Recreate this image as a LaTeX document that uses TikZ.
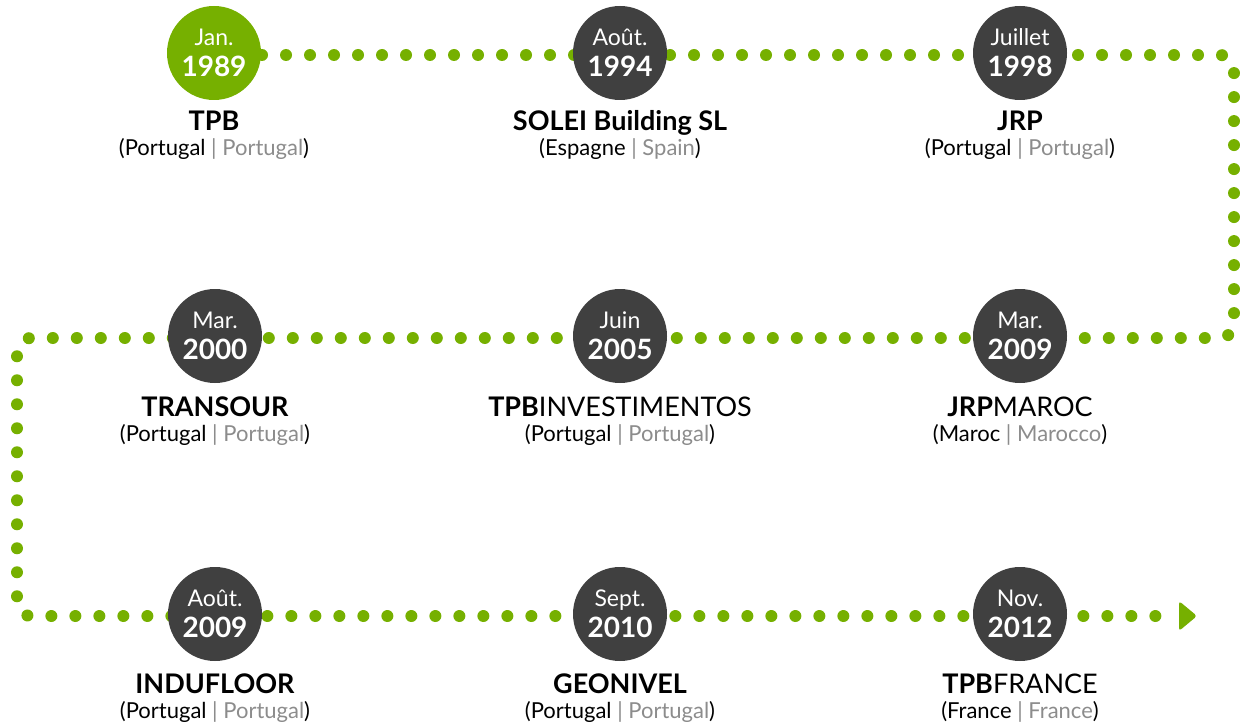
\documentclass[tikz,border=0pt]{standalone}
\usepackage{fontspec}
\setmainfont{Lato}
\usetikzlibrary{positioning}
\definecolor{tlgreen}{RGB}{118,176,0}
\definecolor{tldark}{RGB}{64,64,64}
\definecolor{tlgray}{RGB}{140,140,140}
\newcommand{\evdate}[2]{{\fontsize{11.5}{15}\selectfont #1}\\{\fontsize{14}{15}\selectfont\bfseries #2}}
\newcommand{\evname}[3]{{\fontsize{13.5}{12.5}\selectfont #1}\\{\fontsize{11}{12.5}\selectfont (#2 \textcolor{tlgray}{| #3})}}

\begin{document}
\begin{tikzpicture}[x=0.5pt, y=-0.5pt,
    datecirc/.style={circle, fill=tldark, minimum size=47pt, inner sep=0pt, text=white, align=center,
      font=\fontsize{12}{15.5}\selectfont},
    firstcirc/.style={datecirc, fill=tlgreen},
    evlabel/.style={align=center, anchor=north, inner sep=0pt, font=\fontsize{11}{12.5}\selectfont},
    dotline/.style={tlgreen, line width=6pt, line cap=round, dash pattern=on 0pt off 12pt, rounded corners=7pt}]
  \useasboundingbox (0,0) rectangle (1240,722);
  % path of the timeline
  \coordinate (start) at (214,55);
  \coordinate (tip) at (1197,616);
  \draw[dotline] (start) -- (1234,55) -- (1234,338) -- (17,338) -- (17,616) -- (1160,616);
  \fill[tlgreen, rounded corners=1.5pt] (1179,601) -- (tip) -- (1179,631) -- cycle;
  % row 1
  \node[firstcirc] (c1) at (214,53) {\evdate{Jan.}{1989}};
  \node[datecirc] (c2) at (620,53) {\evdate{Août.}{1994}};
  \node[datecirc] (c3) at (1020,53) {\evdate{Juillet}{1998}};
  % row 2
  \node[datecirc] (c4) at (215,336) {\evdate{Mar.}{2000}};
  \node[datecirc] (c5) at (620,336) {\evdate{Juin}{2005}};
  \node[datecirc] (c6) at (1020,336) {\evdate{Mar.}{2009}};
  % row 3
  \node[datecirc] (c7) at (215,614) {\evdate{Août.}{2009}};
  \node[datecirc] (c8) at (620,614) {\evdate{Sept.}{2010}};
  \node[datecirc] (c9) at (1020,614) {\evdate{Nov.}{2012}};
  % labels
  \node[evlabel, below=5pt of c1] (l1) {\evname{\textbf{TPB}}{Portugal}{Portugal}};
  \node[evlabel, below=5pt of c2] (l2) {\evname{\textbf{SOLEI Building SL}}{Espagne}{Spain}};
  \node[evlabel, below=5pt of c3] (l3) {\evname{\textbf{JRP}}{Portugal}{Portugal}};
  \node[evlabel, below=6.5pt of c4] (l4) {\evname{\textbf{TRANSOUR}}{Portugal}{Portugal}};
  \node[evlabel, below=6.5pt of c5] (l5) {\evname{\textbf{TPB}INVESTIMENTOS}{Portugal}{Portugal}};
  \node[evlabel, below=6.5pt of c6] (l6) {\evname{\textbf{JRP}MAROC}{Maroc}{Marocco}};
  \node[evlabel, below=6pt of c7] (l7) {\evname{\textbf{INDUFLOOR}}{Portugal}{Portugal}};
  \node[evlabel, below=6pt of c8] (l8) {\evname{\textbf{GEONIVEL}}{Portugal}{Portugal}};
  \node[evlabel, below=6pt of c9] (l9) {\evname{\textbf{TPB}FRANCE}{France}{France}};
\end{tikzpicture}
\end{document}
